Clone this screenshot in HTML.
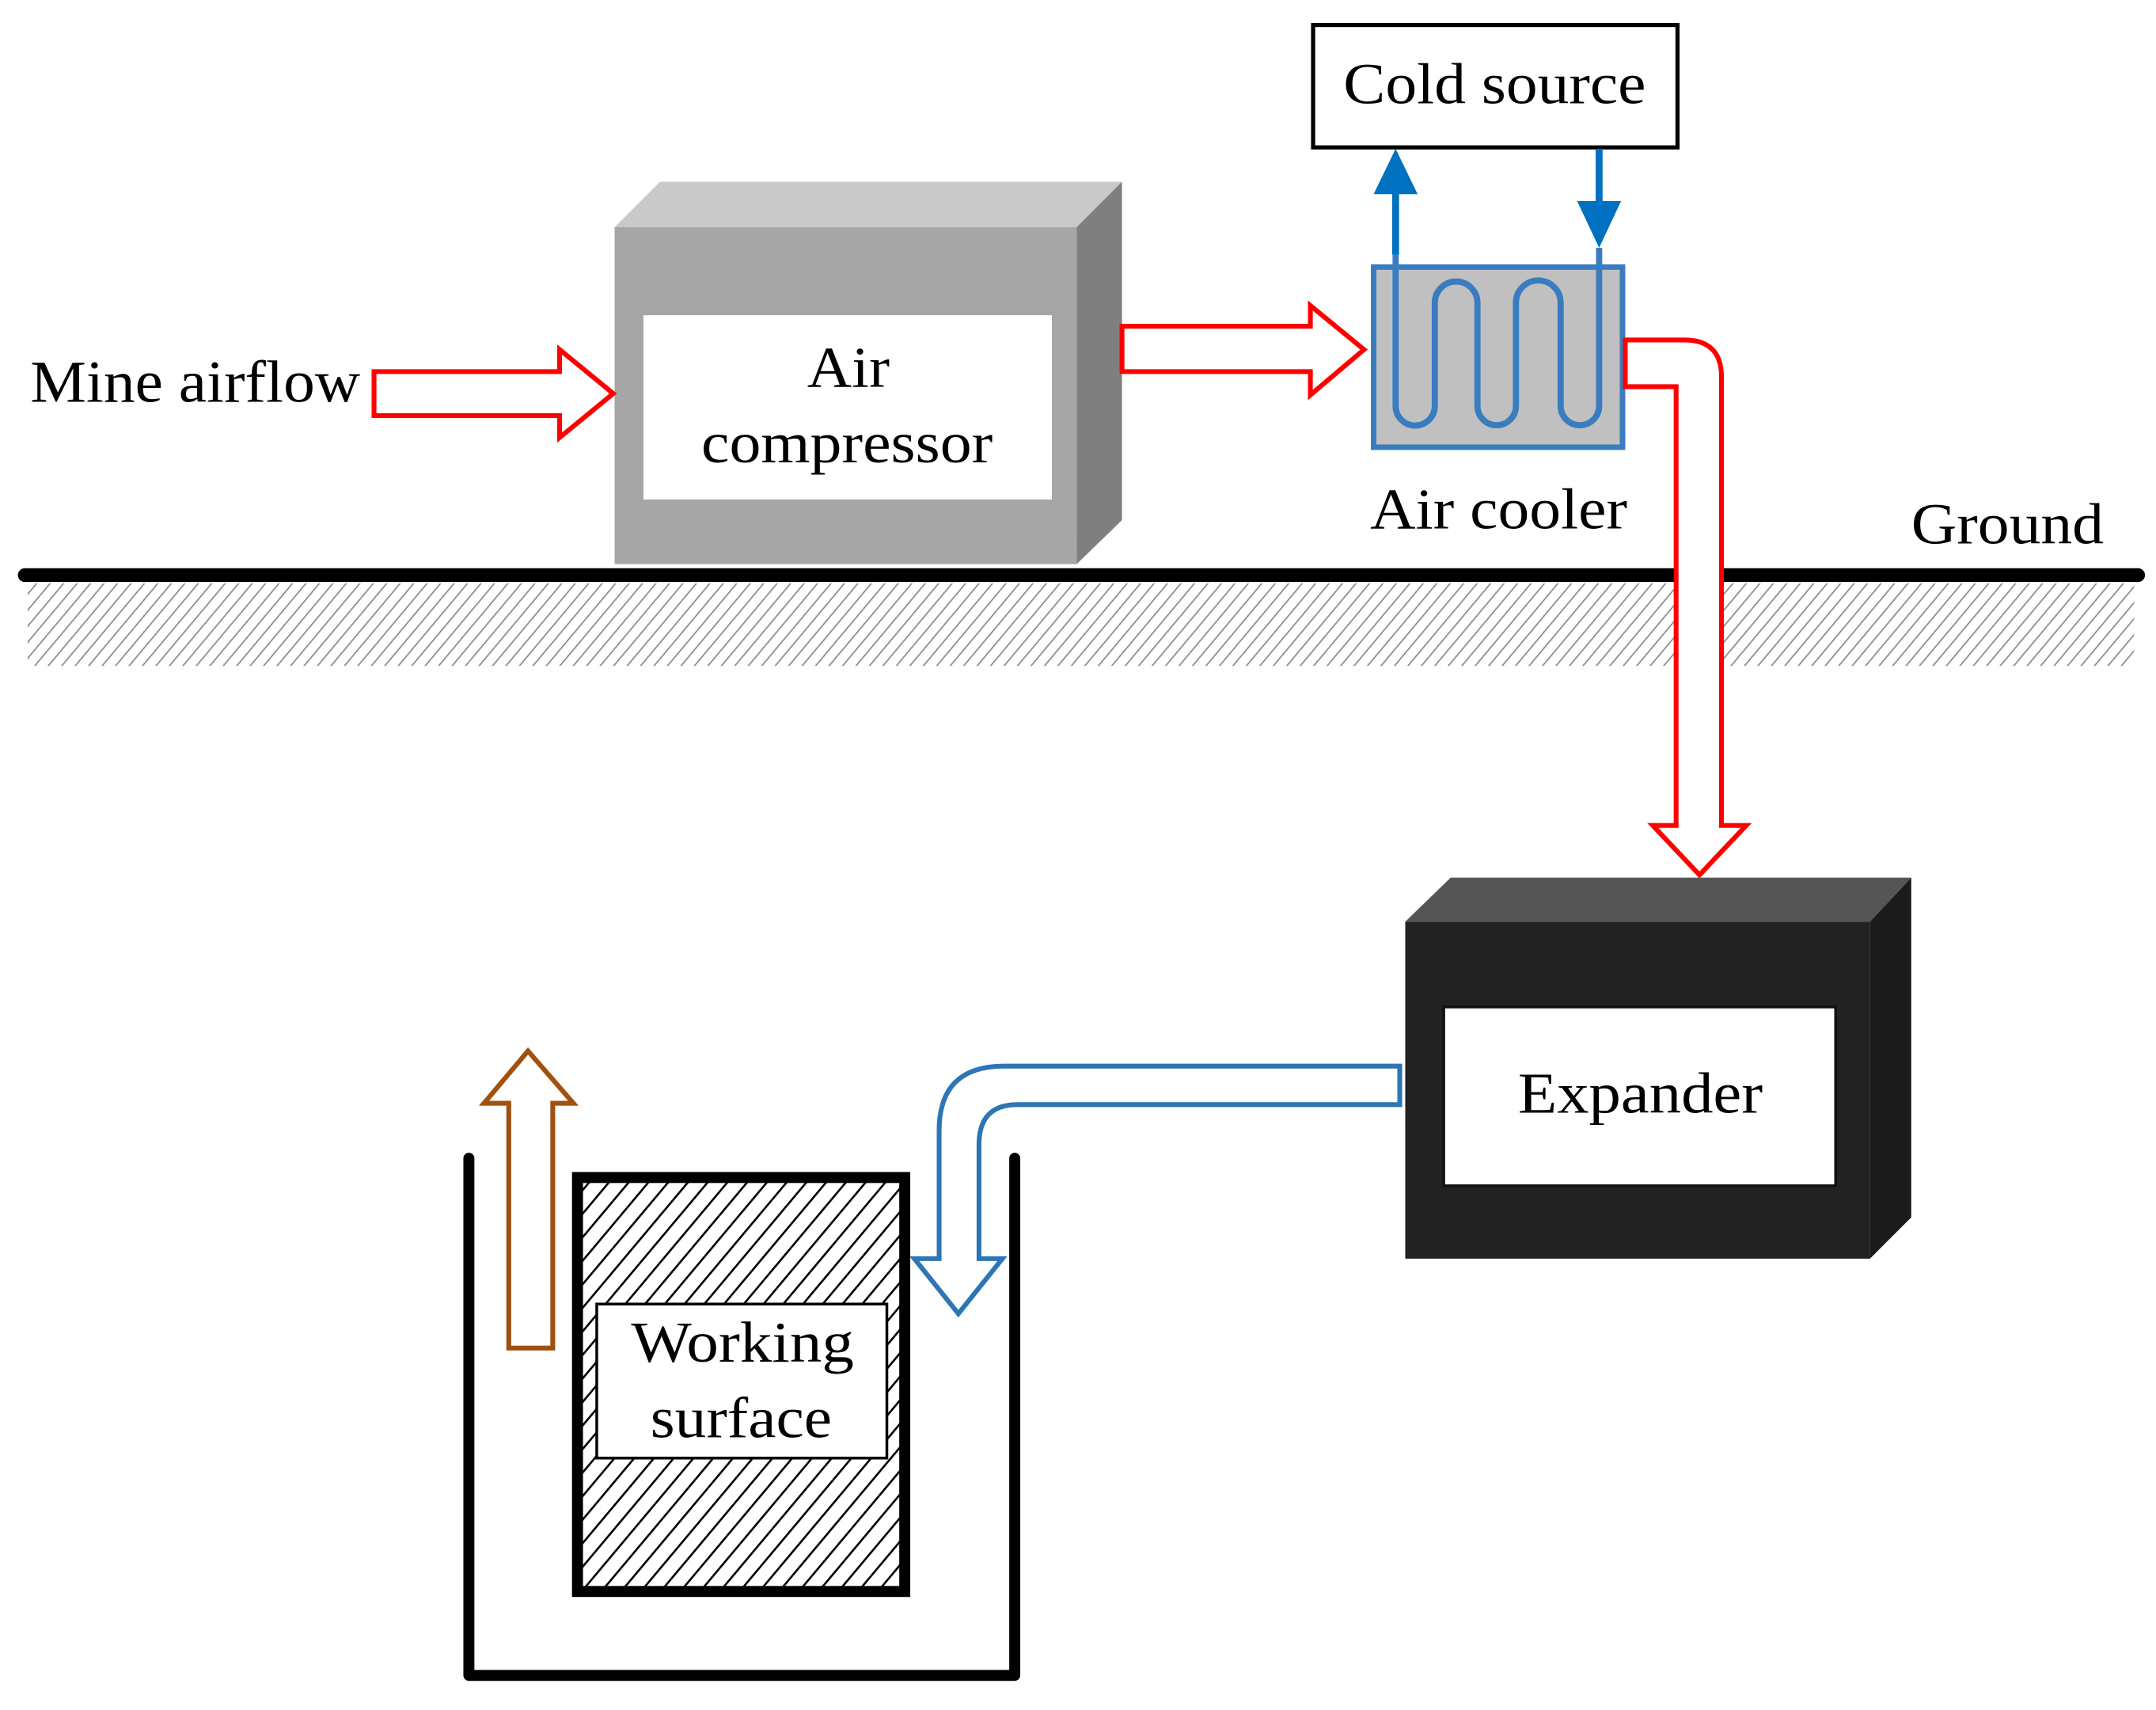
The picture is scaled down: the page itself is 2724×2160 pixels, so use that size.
<!DOCTYPE html>
<html><head><meta charset="utf-8"><style>
html,body{margin:0;padding:0;background:#fff;}
svg{display:block;}
text{font-family:"Liberation Serif",serif;fill:#000;}
</style></head><body>
<svg width="2724" height="2160" viewBox="0 0 1568 1243" xmlns="http://www.w3.org/2000/svg">
<defs>
<pattern id="hg" width="7.5" height="7.5" patternUnits="userSpaceOnUse" patternTransform="rotate(40)">
<rect width="7.5" height="7.5" fill="#fff"/><line x1="0" y1="0" x2="0" y2="7.5" stroke="#8a8a8a" stroke-width="2"/>
</pattern>
<pattern id="hb" width="11" height="11" patternUnits="userSpaceOnUse" patternTransform="rotate(40)">
<rect width="11" height="11" fill="#fff"/><line x1="0" y1="0" x2="0" y2="11" stroke="#000" stroke-width="3"/>
</pattern>
</defs>
<rect width="1568" height="1243" fill="#fff"/>

<rect x="20" y="424" width="1532" height="60" fill="url(#hg)"/>

<polygon points="447,165 480,132 816,132 783,165" fill="#c9c9c9"/>
<polygon points="783,165 816,132 816,378 783,410" fill="#7f7f7f"/>
<rect x="447" y="165" width="336" height="245" fill="#a6a6a6"/>
<rect x="468" y="229" width="297" height="134" fill="#fff"/>
<text x="617" y="281" font-size="42" text-anchor="middle" textLength="60" lengthAdjust="spacingAndGlyphs">Air</text>
<text x="616" y="336" font-size="42" text-anchor="middle" textLength="212" lengthAdjust="spacingAndGlyphs">compressor</text>

<line x1="18" y1="418" x2="1555" y2="418" stroke="#000" stroke-width="10" stroke-linecap="round"/>

<text x="22" y="292" font-size="43" textLength="240" lengthAdjust="spacingAndGlyphs">Mine airflow</text>
<path d="M272,270 H407 V254 L446,286 L407,318 V302 H272 Z" fill="#fff" stroke="#ff0000" stroke-width="3.5"/>
<path d="M816,237 H953 V222 L992,254 L953,287 V270 H816 Z" fill="#fff" stroke="#ff0000" stroke-width="3.5"/>

<rect x="955" y="18" width="265" height="89" fill="#fff" stroke="#000" stroke-width="3"/>
<text x="1087" y="75" font-size="42" text-anchor="middle" textLength="220" lengthAdjust="spacingAndGlyphs">Cold source</text>

<rect x="999" y="194" width="181" height="131" fill="#c0c0c0" stroke="#3a7cc0" stroke-width="4"/>
<path d="M1015,185 V295 A14.25,14.25 0 0 0 1043.5,295 V220 A15.5,15.5 0 0 1 1074.5,220 V295 A14,14 0 0 0 1102.5,295 V220 A16.25,16.25 0 0 1 1135,220 V295 A14,14 0 0 0 1163,295 V180" fill="none" stroke="#3a7cc0" stroke-width="4.5"/>
<line x1="1015" y1="185" x2="1015" y2="135" stroke="#0070c0" stroke-width="5"/>
<polygon points="999,141 1015,108 1031,141" fill="#0070c0"/>
<line x1="1163" y1="108" x2="1163" y2="150" stroke="#0070c0" stroke-width="5"/>
<polygon points="1147,146 1179,146 1163,180" fill="#0070c0"/>
<text x="1090" y="384" font-size="42" text-anchor="middle" textLength="187" lengthAdjust="spacingAndGlyphs">Air cooler</text>
<text x="1390" y="395" font-size="42" textLength="140" lengthAdjust="spacingAndGlyphs">Ground</text>

<path d="M1182,247 H1225 Q1252,247 1252,274 V600 H1270 L1236,636 L1202,600 H1219 V281 H1182 Z" fill="#fff" stroke="#ff0000" stroke-width="3.5"/>

<polygon points="1022,670 1055,638 1390,638 1360,670" fill="#555"/>
<polygon points="1360,670 1390,638 1390,885 1360,915" fill="#1b1b1b"/>
<rect x="1022" y="670" width="338" height="245" fill="#222"/>
<rect x="1050" y="732" width="285" height="130" fill="#fff" stroke="#111" stroke-width="2"/>
<text x="1193" y="809" font-size="42" text-anchor="middle" textLength="178" lengthAdjust="spacingAndGlyphs">Expander</text>

<path d="M1018,775 H730 Q683,775 683,822 V915 H665 L697,955 L729,915 H712 V832 Q712,803 740,803 H1018 Z" fill="#fff" stroke="#2e75b6" stroke-width="3.5"/>

<path d="M370,980 V802 H352 L384,764 L417,802 H402 V980 Z" fill="#fff" stroke="#a0500f" stroke-width="3.5"/>

<path d="M341,842 V1218 H738 V842" fill="none" stroke="#000" stroke-width="8" stroke-linecap="round" stroke-linejoin="round"/>

<rect x="420" y="856" width="238" height="301" fill="url(#hb)" stroke="#000" stroke-width="8"/>
<rect x="434" y="948" width="211" height="112" fill="#fff" stroke="#000" stroke-width="2"/>
<text x="540" y="990" font-size="42" text-anchor="middle" textLength="162" lengthAdjust="spacingAndGlyphs">Working</text>
<text x="539" y="1045" font-size="42" text-anchor="middle" textLength="132" lengthAdjust="spacingAndGlyphs">surface</text>
</svg>
</body></html>
